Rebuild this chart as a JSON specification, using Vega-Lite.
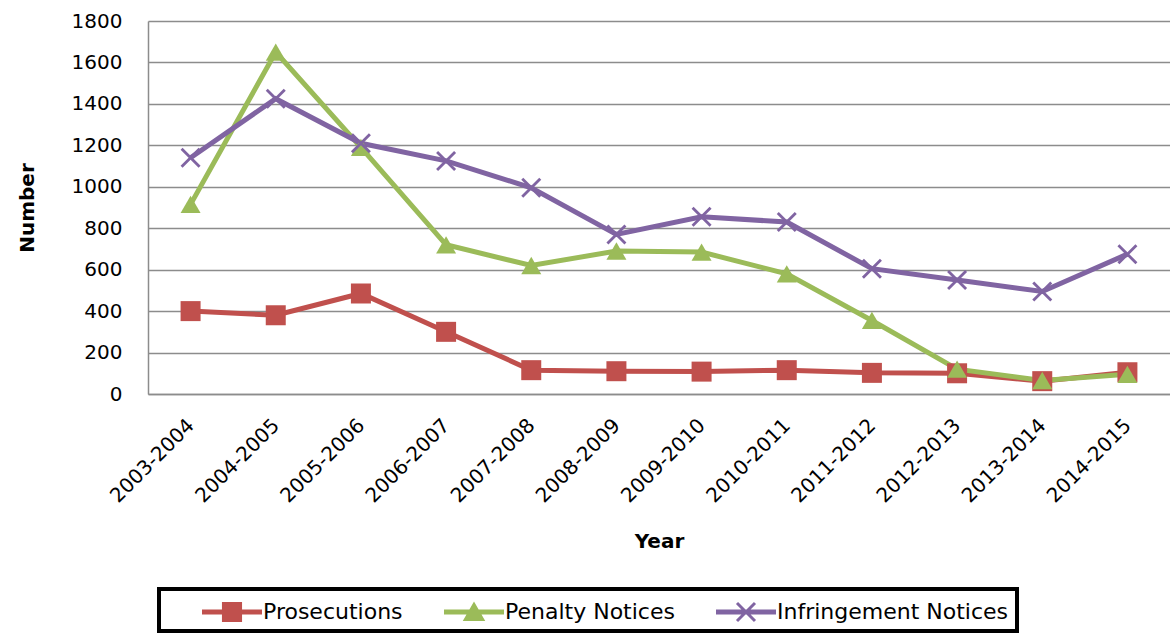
{
  "$schema": "https://vega.github.io/schema/vega-lite/v6.json",
  "width": 1022,
  "height": 373,
  "autosize": {"type": "none"},
  "padding": {"left": 148, "top": 21, "right": 0, "bottom": 245},
  "background": "white",
  "config": {
    "view": {"stroke": null},
    "font": "DejaVu Sans"
  },
  "data": {
    "values": [
      {"year": "2003-2004", "series": "Prosecutions", "marker": "square", "value": 400},
      {"year": "2004-2005", "series": "Prosecutions", "marker": "square", "value": 380},
      {"year": "2005-2006", "series": "Prosecutions", "marker": "square", "value": 485},
      {"year": "2006-2007", "series": "Prosecutions", "marker": "square", "value": 300},
      {"year": "2007-2008", "series": "Prosecutions", "marker": "square", "value": 115},
      {"year": "2008-2009", "series": "Prosecutions", "marker": "square", "value": 110},
      {"year": "2009-2010", "series": "Prosecutions", "marker": "square", "value": 108},
      {"year": "2010-2011", "series": "Prosecutions", "marker": "square", "value": 115},
      {"year": "2011-2012", "series": "Prosecutions", "marker": "square", "value": 102},
      {"year": "2012-2013", "series": "Prosecutions", "marker": "square", "value": 100},
      {"year": "2013-2014", "series": "Prosecutions", "marker": "square", "value": 62},
      {"year": "2014-2015", "series": "Prosecutions", "marker": "square", "value": 105},
      {"year": "2003-2004", "series": "Penalty Notices", "marker": "triangle", "value": 915},
      {"year": "2004-2005", "series": "Penalty Notices", "marker": "triangle", "value": 1650},
      {"year": "2005-2006", "series": "Penalty Notices", "marker": "triangle", "value": 1190},
      {"year": "2006-2007", "series": "Penalty Notices", "marker": "triangle", "value": 720},
      {"year": "2007-2008", "series": "Penalty Notices", "marker": "triangle", "value": 620},
      {"year": "2008-2009", "series": "Penalty Notices", "marker": "triangle", "value": 690},
      {"year": "2009-2010", "series": "Penalty Notices", "marker": "triangle", "value": 685},
      {"year": "2010-2011", "series": "Penalty Notices", "marker": "triangle", "value": 580},
      {"year": "2011-2012", "series": "Penalty Notices", "marker": "triangle", "value": 355},
      {"year": "2012-2013", "series": "Penalty Notices", "marker": "triangle", "value": 120},
      {"year": "2013-2014", "series": "Penalty Notices", "marker": "triangle", "value": 65},
      {"year": "2014-2015", "series": "Penalty Notices", "marker": "triangle", "value": 95},
      {"year": "2003-2004", "series": "Infringement Notices", "marker": "x", "value": 1140},
      {"year": "2004-2005", "series": "Infringement Notices", "marker": "x", "value": 1425},
      {"year": "2005-2006", "series": "Infringement Notices", "marker": "x", "value": 1210},
      {"year": "2006-2007", "series": "Infringement Notices", "marker": "x", "value": 1125},
      {"year": "2007-2008", "series": "Infringement Notices", "marker": "x", "value": 995},
      {"year": "2008-2009", "series": "Infringement Notices", "marker": "x", "value": 770},
      {"year": "2009-2010", "series": "Infringement Notices", "marker": "x", "value": 855},
      {"year": "2010-2011", "series": "Infringement Notices", "marker": "x", "value": 830},
      {"year": "2011-2012", "series": "Infringement Notices", "marker": "x", "value": 605},
      {"year": "2012-2013", "series": "Infringement Notices", "marker": "x", "value": 550},
      {"year": "2013-2014", "series": "Infringement Notices", "marker": "x", "value": 495},
      {"year": "2014-2015", "series": "Infringement Notices", "marker": "x", "value": 675}
    ]
  },
  "encoding": {
    "x": {
      "field": "year",
      "type": "ordinal",
      "sort": null,
      "scale": {"type": "point", "padding": 0.5},
      "axis": {
        "title": "Year",
        "titleFont": "DejaVu Sans",
        "titleFontSize": 20,
        "titleFontWeight": "bold",
        "titleColor": "black",
        "titlePadding": 25,
        "labelAngle": -45,
        "labelAlign": "right",
        "labelBaseline": "middle",
        "labelFont": "DejaVu Sans",
        "labelFontSize": 20,
        "labelColor": "black",
        "labelPadding": 28,
        "ticks": false,
        "domain": true,
        "domainColor": "#8c8c8c",
        "domainWidth": 1.5,
        "grid": false
      }
    },
    "y": {
      "field": "value",
      "type": "quantitative",
      "scale": {"domain": [0, 1800], "nice": false},
      "axis": {
        "title": "Number",
        "titleFont": "DejaVu Sans",
        "titleFontSize": 20,
        "titleFontWeight": "bold",
        "titleColor": "black",
        "titlePadding": 34,
        "values": [0, 200, 400, 600, 800, 1000, 1200, 1400, 1600, 1800],
        "format": "d",
        "labelFont": "DejaVu Sans",
        "labelFontSize": 20,
        "labelColor": "black",
        "labelPadding": 26,
        "ticks": false,
        "domain": true,
        "domainColor": "#8c8c8c",
        "domainWidth": 1.5,
        "grid": true,
        "gridColor": "#8c8c8c",
        "gridWidth": 1.5
      }
    }
  },
  "layer": [
    {
      "mark": {"type": "line", "strokeWidth": 5},
      "encoding": {
        "color": {
          "field": "series",
          "type": "nominal",
          "sort": ["Prosecutions", "Penalty Notices", "Infringement Notices"],
          "scale": {
            "domain": ["Prosecutions", "Penalty Notices", "Infringement Notices"],
            "range": ["#C0504D", "#9BBB59", "#8064A2"]
          },
          "legend": {
            "title": null,
            "orient": "none",
            "legendX": 11,
            "legendY": 568,
            "direction": "horizontal",
            "columns": 3,
            "columnPadding": 6,
            "padding": 8,
            "strokeColor": "black",
            "fillColor": "white",
            "symbolSize": 900,
            "symbolOffset": 50,
            "labelOffset": 16,
            "labelFont": "DejaVu Sans",
            "labelFontSize": 22,
            "labelColor": "black",
            "labelLimit": 400,
            "labelExpr": "datum.label === 'Infringement Notices' ? datum.label + '\u00a0\u00a0\u00a0\u00a0' : datum.label",
            "encode": {
              "legend": {
                "update": {
                  "strokeWidth": {"value": 4}
                }
              },
              "symbols": {
                "update": {
                  "shape": {"signal": "datum.value === 'Prosecutions' ? 'M-2,-0.17H2V0.17H-2Z M-0.67,-0.67H0.67V0.67H-0.67Z' : datum.value === 'Penalty Notices' ? 'M-2,-0.17H2V0.17H-2Z M0,-0.7L0.75,0.6H-0.75Z' : 'M-2,-0.17H2V0.17H-2Z M-0.67,-0.53L-0.53,-0.67L0,-0.14L0.53,-0.67L0.67,-0.53L0.14,0L0.67,0.53L0.53,0.67L0,0.14L-0.53,0.67L-0.67,0.53L-0.14,0Z'"},
                  "fill": {"signal": "datum.value === 'Prosecutions' ? '#C0504D' : datum.value === 'Penalty Notices' ? '#9BBB59' : '#8064A2'"},
                  "strokeWidth": {"value": 0},
                  "opacity": {"value": 1}
                }
              }
            }
          }
        }
      }
    },
    {
      "mark": {"type": "point", "filled": true, "opacity": 1, "size": 400, "strokeWidth": 0},
      "encoding": {
        "fill": {
          "field": "marker",
          "type": "nominal",
          "scale": {
            "domain": ["square", "triangle", "x"],
            "range": ["#C0504D", "#9BBB59", "#8064A2"]
          },
          "legend": null
        },
        "shape": {
          "field": "marker",
          "type": "nominal",
          "scale": {
            "domain": ["square", "triangle", "x"],
            "range": ["square", "triangle-up", "M-1,-0.8L-0.8,-1L0,-0.2L0.8,-1L1,-0.8L0.2,0L1,0.8L0.8,1L0,0.2L-0.8,1L-1,0.8L-0.2,0Z"]
          },
          "legend": null
        }
      }
    }
  ]
}
